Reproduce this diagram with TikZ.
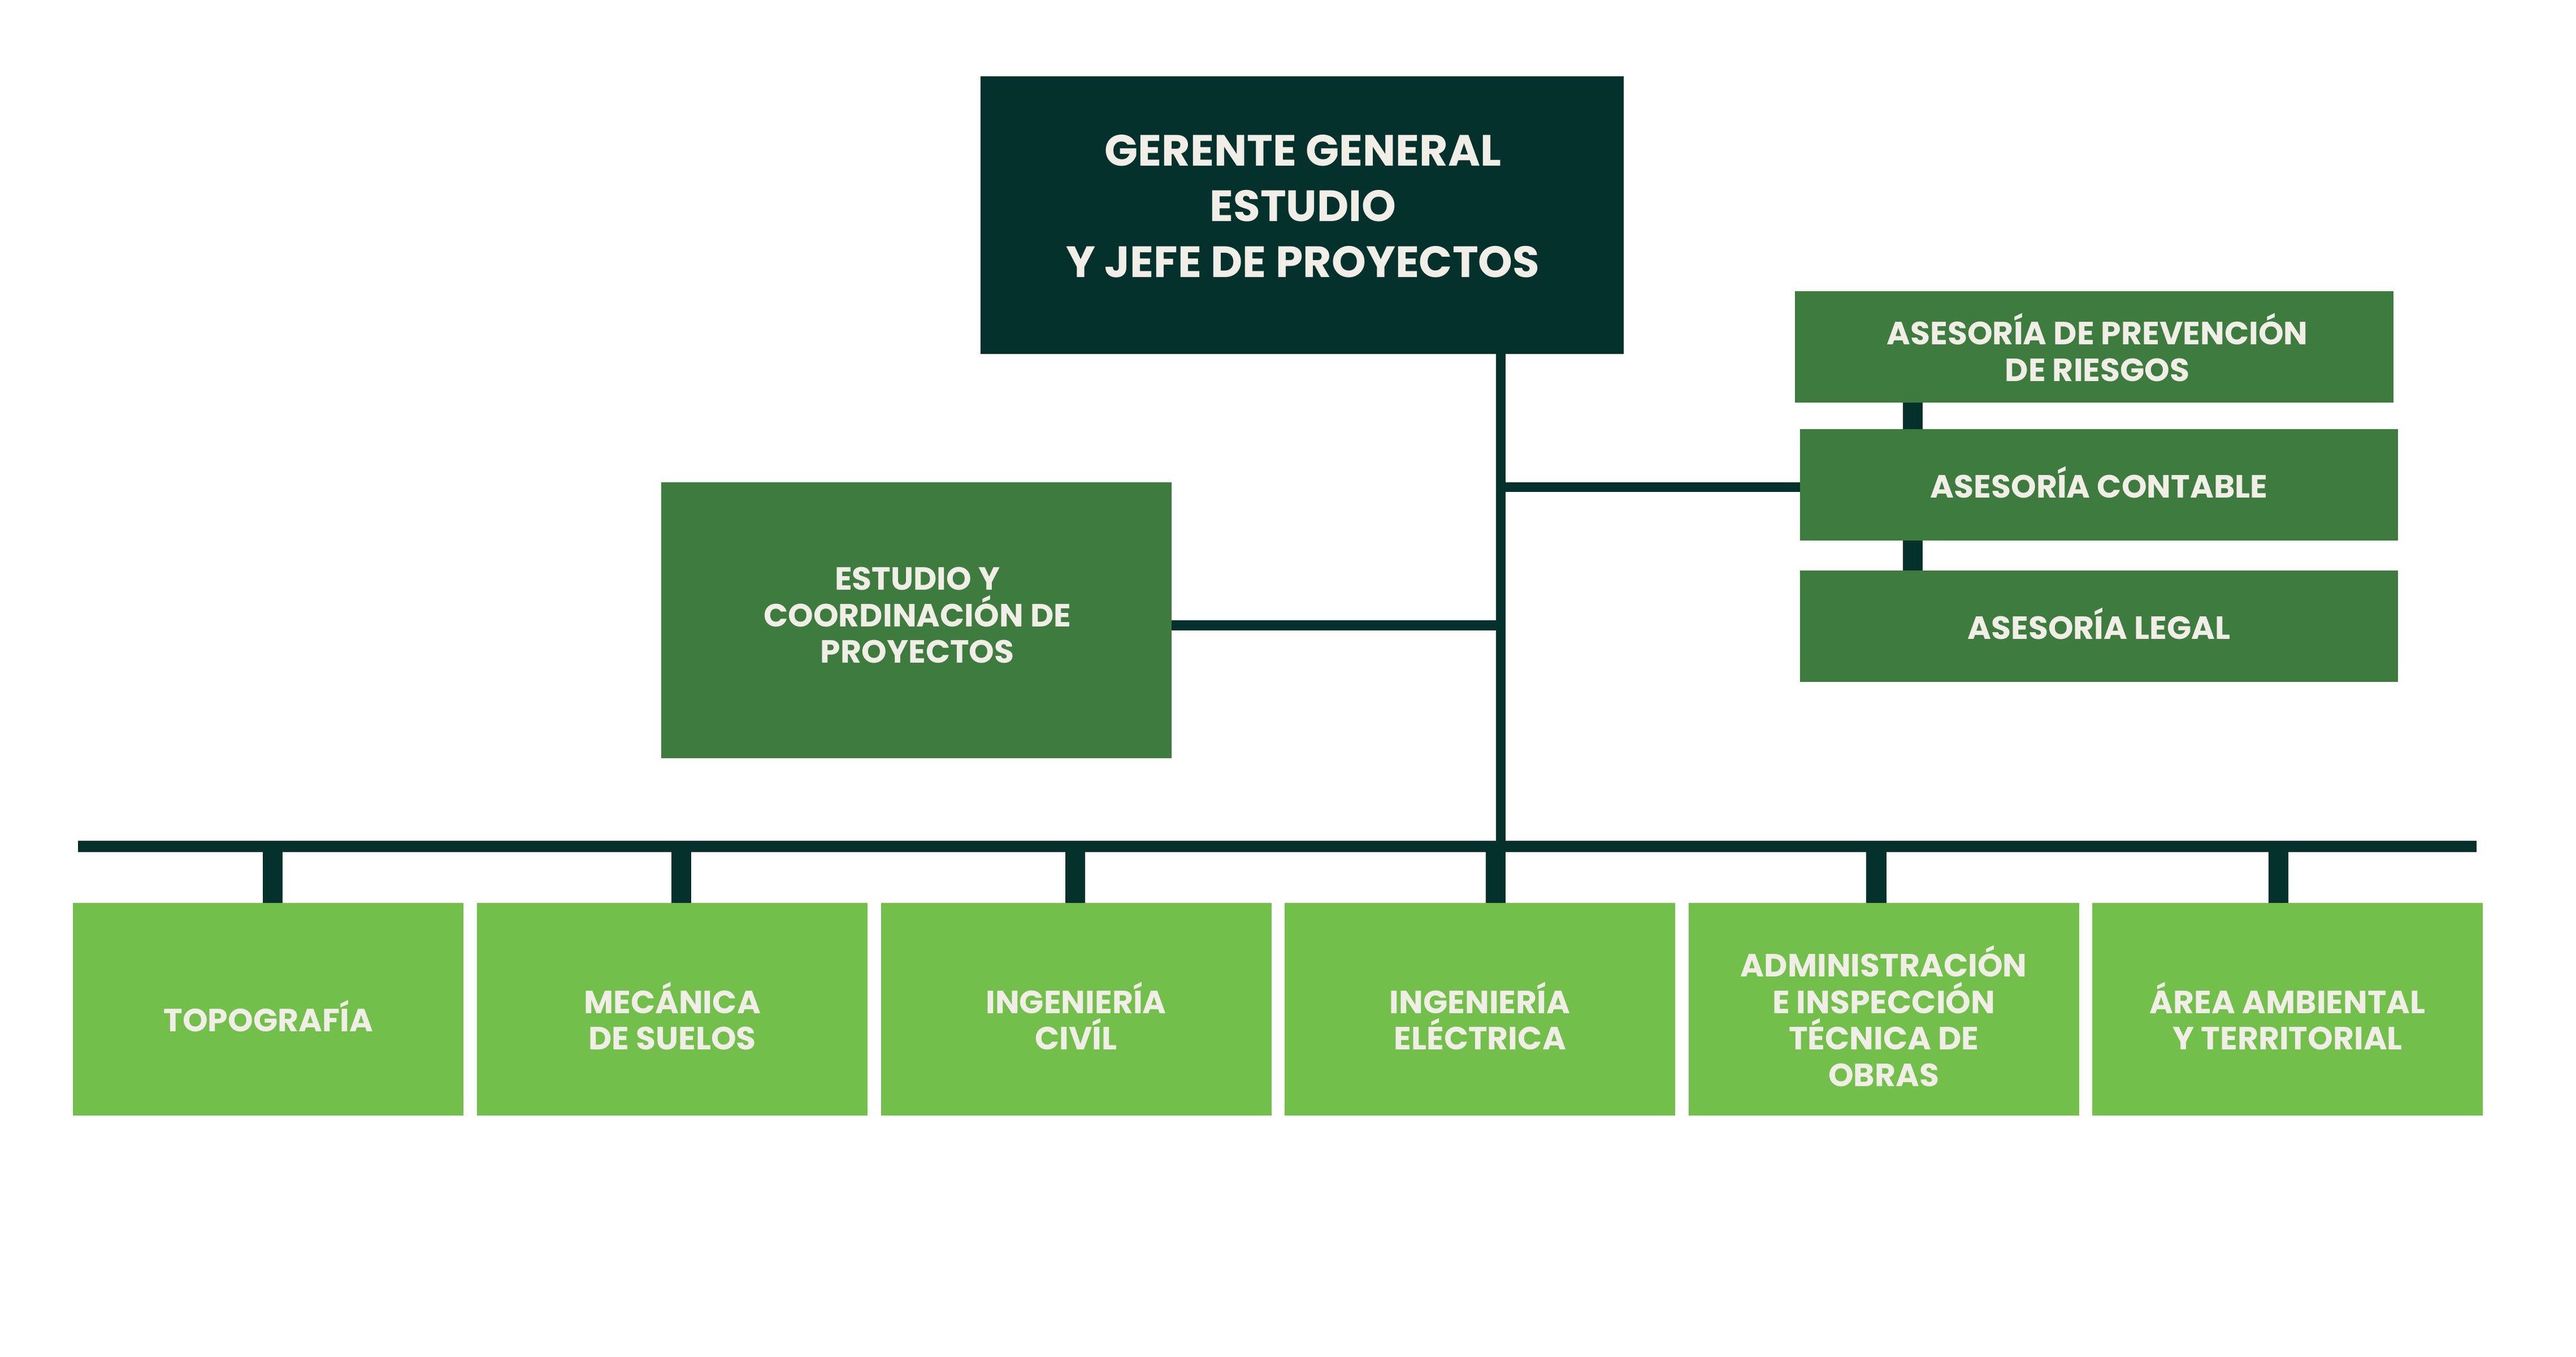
\documentclass[tikz,border=0pt]{standalone}
\usepackage{fontspec}
\setmainfont{Poppins}[BoldFont={* Bold}]
\begin{document}
\definecolor{dk}{HTML}{05312C}
\definecolor{md}{HTML}{3E7B3E}
\definecolor{lt}{HTML}{72BF4B}
\definecolor{tx}{HTML}{F0EEE6}
\begin{tikzpicture}[x=0.02cm,y=-0.02cm,
  bx/.style={inner sep=0pt,text=tx,font=\bfseries\fontsize{11}{12.5}\selectfont,align=center},
  ln/.style={draw=dk,line width=0.12cm}]
\useasboundingbox (0,0) rectangle (1550,816);
\fill[white] (0,0) rectangle (1550,816);
% lines first
\draw[ln] (903,213) -- (903,509);
\draw[ln] (903,293) -- (1083,293);
\draw[ln] (705,376) -- (903,376);
\draw[draw=dk,line width=0.14cm] (47,509) -- (1490,509);
\foreach \x in {164,410,647,900,1129,1371}{\draw[draw=dk,line width=0.24cm] (\x,509) -- (\x,543);}
\draw[draw=dk,line width=0.24cm] (1151,242) -- (1151,343);
% boxes
\fill[dk] (590,46) rectangle (977,213);
\node[bx,font=\bfseries\fontsize{15}{19}\selectfont] (g) at (784,124) {GERENTE GENERAL\\ESTUDIO\\Y JEFE DE PROYECTOS};
\fill[md] (1080,175) rectangle (1440,242);
\node[bx] (p) at (1262,209) {ASESORÍA DE PREVENCIÓN\\DE RIESGOS};
\fill[md] (1083,258) rectangle (1443,325);
\node[bx] (c) at (1263,290) {ASESORÍA CONTABLE};
\fill[md] (1083,343) rectangle (1443,410);
\node[bx] (l) at (1263,375) {ASESORÍA LEGAL};
\fill[md] (398,290) rectangle (705,456);
\node[bx] (e) at (552,370) {ESTUDIO Y\\COORDINACIÓN DE\\PROYECTOS};
\foreach \a/\t [count=\i] in {44/TOPOGRAFÍA,287/{MECÁNICA\\DE SUELOS},530/{INGENIERÍA\\CIVÍL},773/{INGENIERÍA\\ELÉCTRICA},1016/{ADMINISTRACIÓN\\E INSPECCIÓN\\TÉCNICA DE\\OBRAS},1259/{ÁREA AMBIENTAL\\Y TERRITORIAL}}{
  \fill[lt] (\a,543) rectangle (\a+235,671);
  \node[bx] (b\i) at (\a+117.5,611) {\t};
}
\end{tikzpicture}
\end{document}
